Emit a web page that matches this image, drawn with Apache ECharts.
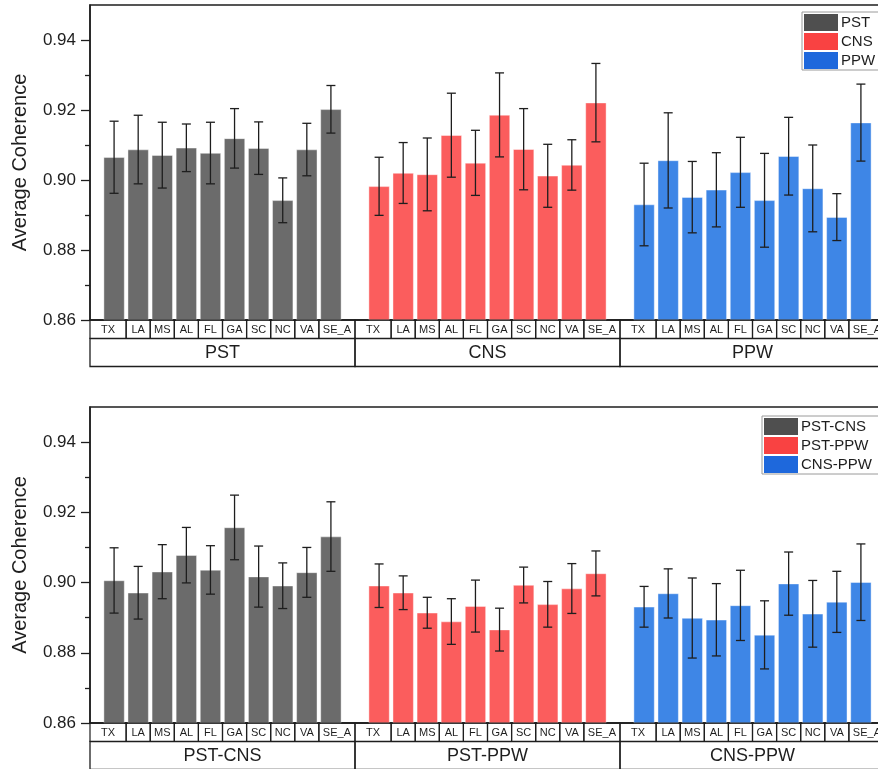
<!DOCTYPE html>
<html>
<head>
<meta charset="utf-8">
<title>Average Coherence</title>
<script src="https://cdn.jsdelivr.net/npm/echarts@6/dist/echarts.min.js"></script>
<style>
  html, body { margin: 0; padding: 0; background: #ffffff; }
  #chart { width: 878px; height: 769px; }
</style>
</head>
<body>
<div id="chart"></div>
<script>
// Sites shown within every group
const sites = ['TX', 'LA', 'MS', 'AL', 'FL', 'GA', 'SC', 'NC', 'VA', 'SE_A'];

// Upper panel: single datasets
const groupsTop = ['PST', 'CNS', 'PPW'];
const pstMean = [0.9065, 0.9087, 0.9071, 0.9092, 0.9077, 0.9119, 0.9091, 0.8942, 0.9087, 0.9202];
const pstErr  = [0.0103, 0.0098, 0.0094, 0.0068, 0.0088, 0.0085, 0.0075, 0.0064, 0.0075, 0.0068];
const cnsMean = [0.8982, 0.9020, 0.9016, 0.9128, 0.9049, 0.9186, 0.9088, 0.9012, 0.9043, 0.9221];
const cnsErr  = [0.0083, 0.0087, 0.0104, 0.0120, 0.0093, 0.0120, 0.0116, 0.0090, 0.0072, 0.0112];
const ppwMean = [0.8930, 0.9056, 0.8951, 0.8972, 0.9022, 0.8942, 0.9068, 0.8976, 0.8894, 0.9164];
const ppwErr  = [0.0118, 0.0136, 0.0102, 0.0106, 0.0100, 0.0134, 0.0111, 0.0124, 0.0067, 0.0110];

// Lower panel: dataset pairs
const groupsBottom = ['PST-CNS', 'PST-PPW', 'CNS-PPW'];
const pstCnsMean = [0.9006, 0.8971, 0.9031, 0.9078, 0.9036, 0.9157, 0.9017, 0.8991, 0.9029, 0.9131];
const pstCnsErr  = [0.0093, 0.0075, 0.0077, 0.0079, 0.0069, 0.0092, 0.0087, 0.0065, 0.0071, 0.0099];
const pstPpwMean = [0.8991, 0.8971, 0.8914, 0.8889, 0.8933, 0.8866, 0.8993, 0.8938, 0.8983, 0.9026];
const pstPpwErr  = [0.0062, 0.0048, 0.0044, 0.0065, 0.0074, 0.0061, 0.0051, 0.0065, 0.0071, 0.0064];
const cnsPpwMean = [0.8931, 0.8969, 0.8899, 0.8894, 0.8935, 0.8851, 0.8997, 0.8911, 0.8945, 0.9001];
const cnsPpwErr  = [0.0058, 0.0070, 0.0114, 0.0103, 0.0100, 0.0097, 0.0090, 0.0095, 0.0087, 0.0109];

// Axis ticks
const majorTicks = [0.86, 0.88, 0.90, 0.92, 0.94];
const minorTicks = [0.87, 0.89, 0.91, 0.93];

const legendColors = ['#4f4f4f', '#f94242', '#1e68dc'];
const barColors = ['#6b6b6b', '#fb5d5d', '#3e86e6'];
const FONT = '"Liberation Sans", Arial, Helvetica, sans-serif';
const INK = '#1e1e1e';
const SLOT = sites.length + 1;          // one empty slot separates groups
const Y_MIN = 0.86, Y_MAX = 0.95;

const chart = echarts.init(document.getElementById('chart'), null, { renderer: 'canvas' });

function posOf(g, i) { return g * SLOT + 1 + i; }

function errorRender(params, api) {
  const x = api.value(0), m = api.value(1), e = api.value(2);
  const top = api.coord([x, m + e]);
  const bot = api.coord([x, m - e]);
  const cap = 4.5;
  const st = { stroke: INK, lineWidth: 1.3 };
  return {
    type: 'group',
    children: [
      { type: 'line', shape: { x1: top[0], y1: top[1], x2: bot[0], y2: bot[1] }, style: st },
      { type: 'line', shape: { x1: top[0] - cap, y1: top[1], x2: top[0] + cap, y2: top[1] }, style: st },
      { type: 'line', shape: { x1: bot[0] - cap, y1: bot[1], x2: bot[0] + cap, y2: bot[1] }, style: st }
    ]
  };
}

// Row of site names directly under the value axis
function siteRowRender(params, api) {
  const x = api.value(0), idx = api.value(1);
  const left = idx === 0 ? x - 1 : x - 0.5;
  const right = idx === sites.length - 1 ? x + 1 : x + 0.5;
  const p0 = api.coord([left, Y_MIN]);
  const p1 = api.coord([right, Y_MIN]);
  const h = 18.5;
  return {
    type: 'group',
    children: [
      { type: 'rect', shape: { x: p0[0], y: p0[1], width: p1[0] - p0[0], height: h },
        style: { fill: 'none', stroke: INK, lineWidth: 1.2 } },
      { type: 'text', style: { text: sites[idx], x: (p0[0] + p1[0]) / 2, y: p0[1] + h / 2 + 0.5,
        align: 'center', verticalAlign: 'middle', fontSize: 11, fontFamily: FONT, fill: INK } }
    ]
  };
}

// Row of group names beneath the site row
function makeGroupRowRender(names) {
  return function (params, api) {
    const g = api.value(0);
    const p0 = api.coord([g * SLOT, Y_MIN]);
    const p1 = api.coord([(g + 1) * SLOT, Y_MIN]);
    const y = p0[1] + 18.5, h = 28;
    return {
      type: 'group',
      children: [
        { type: 'rect', shape: { x: p0[0], y: y, width: p1[0] - p0[0], height: h },
          style: { fill: 'none', stroke: INK, lineWidth: 1.3 } },
        { type: 'text', style: { text: names[g], x: (p0[0] + p1[0]) / 2, y: y + h / 2 + 0.5,
          align: 'center', verticalAlign: 'middle', fontSize: 18, fontFamily: FONT, fill: INK } }
      ]
    };
  };
}

function buildPanel(panel, names, means, errs) {
  const series = [];
  names.forEach(function (name, g) {
    series.push({
      name: name,
      type: 'bar',
      xAxisIndex: panel, yAxisIndex: panel * 2,
      barWidth: 21,
      barGap: '-100%',
      itemStyle: { color: barColors[g], borderColor: 'rgba(255,255,255,0.7)', borderWidth: 0.6 },
      emphasis: { disabled: true },
      data: means[g].map(function (v, i) { return [posOf(g, i), v]; }),
      z: 2
    });
  });
  const errData = [];
  names.forEach(function (name, g) {
    means[g].forEach(function (v, i) { errData.push([posOf(g, i), v, errs[g][i]]); });
  });
  series.push({
    type: 'custom', xAxisIndex: panel, yAxisIndex: panel * 2,
    renderItem: errorRender, data: errData, z: 5, silent: true
  });
  const rowData = [];
  names.forEach(function (name, g) {
    sites.forEach(function (s, i) { rowData.push([posOf(g, i), i]); });
  });
  series.push({
    type: 'custom', xAxisIndex: panel, yAxisIndex: panel * 2,
    renderItem: siteRowRender, data: rowData, clip: false, z: 6, silent: true
  });
  series.push({
    type: 'custom', xAxisIndex: panel, yAxisIndex: panel * 2,
    renderItem: makeGroupRowRender(names), data: names.map(function (n, g) { return [g]; }),
    clip: false, z: 6, silent: true
  });
  return series;
}

function xAxisFor(panel) {
  return {
    type: 'value', gridIndex: panel, min: 0, max: SLOT * 3,
    axisLine: { show: true, lineStyle: { color: INK, width: 1.5 } },
    axisTick: { show: false }, axisLabel: { show: false }, splitLine: { show: false }
  };
}

function yAxesFor(panel) {
  return [
    {
      type: 'value', gridIndex: panel, min: Y_MIN, max: Y_MAX, interval: 0.02,
      name: 'Average Coherence', nameLocation: 'middle', nameGap: 60,
      nameTextStyle: { fontSize: 20, fontFamily: FONT, color: INK },
      axisLine: { show: true, lineStyle: { color: INK, width: 1.5 } },
      axisTick: { show: true, length: 9, customValues: majorTicks, lineStyle: { color: INK, width: 1.3 } },
      axisLabel: { customValues: majorTicks, margin: 14, fontSize: 17, fontFamily: FONT, color: INK,
        formatter: function (v) { return v.toFixed(2); } },
      splitLine: { show: false }
    },
    {
      type: 'value', gridIndex: panel, min: Y_MIN, max: Y_MAX, position: 'left',
      axisLine: { show: false },
      axisTick: { show: true, length: 5, customValues: minorTicks, lineStyle: { color: INK, width: 1.3 } },
      axisLabel: { show: false }, splitLine: { show: false }
    }
  ];
}

function legendFor(names, left, top) {
  return {
    show: true, orient: 'vertical', left: left, top: top,
    itemWidth: 34, itemHeight: 17, itemGap: 2,
    padding: [2, 12, 1, 2],
    borderColor: '#9a9a9a', borderWidth: 1,
    icon: 'rect', selectedMode: false,
    textStyle: { fontSize: 15, fontFamily: FONT, color: INK, padding: [0, 0, 0, -2] },
    data: names.map(function (n, g) { return { name: n, itemStyle: { color: legendColors[g], borderWidth: 0 } }; })
  };
}

const gridBase = { left: 90, width: 795, show: true, borderColor: INK, borderWidth: 1.5,
  backgroundColor: 'transparent', containLabel: false, outerBoundsMode: 'none' };

const option = {
  backgroundColor: '#ffffff',
  animation: false,
  grid: [
    Object.assign({}, gridBase, { top: 5, height: 315 }),
    Object.assign({}, gridBase, { top: 407, height: 316 })
  ],
  xAxis: [xAxisFor(0), xAxisFor(1)],
  yAxis: yAxesFor(0).concat(yAxesFor(1)),
  legend: [legendFor(groupsTop, 802, 12), legendFor(groupsBottom, 762, 416)],
  series: buildPanel(0, groupsTop, [pstMean, cnsMean, ppwMean], [pstErr, cnsErr, ppwErr])
    .concat(buildPanel(1, groupsBottom, [pstCnsMean, pstPpwMean, cnsPpwMean], [pstCnsErr, pstPpwErr, cnsPpwErr]))
};

chart.setOption(option);
</script>
</body>
</html>
